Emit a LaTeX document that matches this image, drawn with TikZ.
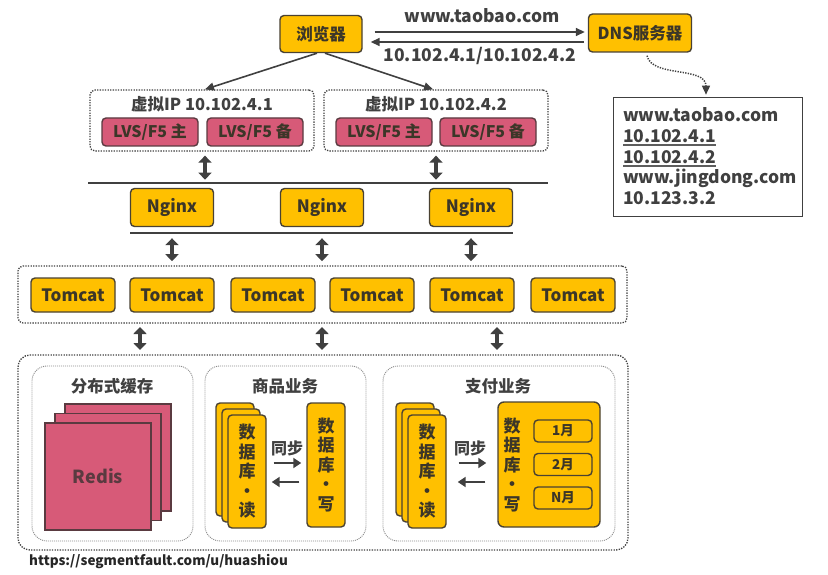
\documentclass[tikz,border=0pt]{standalone}
\usepackage{fontspec}
\setmainfont{Noto Sans CJK SC}
\usetikzlibrary{arrows.meta,calc}
\definecolor{ylw}{HTML}{FFC000}
\definecolor{pnk}{HTML}{D75A78}
\definecolor{bdr}{HTML}{4A4232}
\definecolor{pbdr}{HTML}{5A3A40}
\definecolor{txt}{HTML}{3C3628}
\definecolor{dk}{HTML}{404040}
\definecolor{lg}{HTML}{8A8A8A}
\tikzset{
  fs/.style={font=\bfseries\fontsize{#1}{#1}\selectfont},
  ybox/.style={fill=ylw, draw=bdr, line width=1.4pt, rounded corners=4pt, text=txt, inner sep=0pt},
  pbox/.style={fill=pnk, draw=pbdr, line width=1.4pt, rounded corners=4pt, text=txt, inner sep=0pt},
  dotbox/.style={draw=dk, line width=1.3pt, dash pattern=on 1.3pt off 1.3pt, rounded corners=5pt, inner sep=0pt},
  inbox/.style={draw=lg, line width=0.9pt, dash pattern=on 1pt off 1pt, rounded corners=15pt, inner sep=0pt},
  arr/.style={draw=dk, line width=1.6pt, -{Triangle[length=9pt 0, width=8pt 0]}},
  sarr/.style={draw=dk, line width=2.6pt, -{Triangle[length=8pt 0, width=10pt 0]}},
  dbl/.style={draw=dk, line width=4.5pt, {Triangle[length=7pt 0, width=13pt 0]}-{Triangle[length=7pt 0, width=13pt 0]}},
  sep/.style={draw=dk, line width=1.6pt},
  lbl/.style={text=dk, inner sep=0pt},
  vtxt/.style={align=center, font=\bfseries\fontsize{17}{19.5}\selectfont, text=txt},
}
\begin{document}
\begin{tikzpicture}[x=1pt,y=-1pt]
\useasboundingbox (0,0) rectangle (828,575);

% top
\node[ybox, fs=16.5, minimum width=82pt, minimum height=37pt] (br) at (321,34) {浏览器};
\node[ybox, fs=16.5, minimum width=103pt, minimum height=38pt] (dns) at (640,33) {DNS服务器};
\draw[arr] ($(br.east)+(12,-2)$) -- ($(dns.west)+(-3,-1)$);
\draw[arr] ($(dns.west)+(-4,9)$) -- ($(br.east)+(8,8)$);
\node[lbl, fs=17.5] (q) at (482,16) {www.taobao.com};
\node[lbl, fs=17.5] (a) at (480,56) {10.102.4.1/10.102.4.2};

% DNS table
\node[draw=dk, line width=1.6pt, minimum width=189pt, minimum height=119pt, inner sep=0pt] (tab) at (708,157) {};
\node[lbl, fs=17.5, anchor=west] (t1) at (623,115) {www.taobao.com};
\node[lbl, fs=17.5, anchor=west] (t2) at (623,136) {10.102.4.1};
\node[lbl, fs=17.5, anchor=west] (t3) at (623,157) {10.102.4.2};
\node[lbl, fs=17.5, anchor=west] (t4) at (623,178) {www.jingdong.com};
\node[lbl, fs=17.5, anchor=west] (t5) at (623,198) {10.123.3.2};
\draw[draw=dk!85, line width=1.6pt] ($(t2.south west)+(0,2)$) -- ($(t2.south east)+(0,2)$);
\draw[draw=dk!85, line width=1.6pt] ($(t3.south west)+(0,2)$) -- ($(t3.south east)+(0,2)$);
\draw[draw=dk, line width=1.5pt, dash pattern=on 1.3pt off 1.3pt, -{Triangle[length=9pt 0, width=8pt 0]}]
  ($(dns.south)+(7,3)$) .. controls (652,78) and (706,66) .. ($(tab.north)+(-2,-2)$);

% virtual IP groups
\node[dotbox, minimum width=224pt, minimum height=61pt] (v1) at (202,120.5) {};
\node[dotbox, minimum width=224pt, minimum height=61pt] (v2) at (436,120.5) {};
\node[lbl, fs=16.5] (v1t) at (202,104) {虚拟IP 10.102.4.1};
\node[lbl, fs=16.5] (v2t) at (436,104) {虚拟IP 10.102.4.2};
\node[pbox, fs=16, minimum width=96pt, minimum height=28pt] (l1) at (150,132) {LVS/F5 主};
\node[pbox, fs=16, minimum width=96pt, minimum height=28pt] (l2) at (255,132) {LVS/F5 备};
\node[pbox, fs=16, minimum width=96pt, minimum height=28pt] (l3) at (384,132) {LVS/F5 主};
\node[pbox, fs=16, minimum width=96pt, minimum height=28pt] (l4) at (488,132) {LVS/F5 备};
\draw[arr] ($(br.south)+(-4,0)$) -- ($(v1.north)+(3,0)$);
\draw[arr] ($(br.south)+(4,0)$) -- ($(v2.north)+(-3,0)$);
\draw[dbl] ($(v1.south)+(3,4)$) -- ($(v1.south)+(3,28)$);
\draw[dbl] ($(v2.south)+(0,4)$) -- ($(v2.south)+(0,28)$);

% nginx
\draw[sep] (88,183) -- (548,183);
\node[ybox, fs=17, minimum width=83pt, minimum height=38pt] (n1) at (172,207.5) {Nginx};
\node[ybox, fs=17, minimum width=83pt, minimum height=38pt] (n2) at (322,207.5) {Nginx};
\node[ybox, fs=17, minimum width=83pt, minimum height=38pt] (n3) at (471,207.5) {Nginx};
\draw[sep] (130,233) -- (513,233);
\draw[dbl] ($(n1.south)+(0,11)$) -- ($(n1.south)+(0,34)$);
\draw[dbl] ($(n2.south)+(0,11)$) -- ($(n2.south)+(0,34)$);
\draw[dbl] ($(n3.south)+(0,11)$) -- ($(n3.south)+(0,34)$);

% tomcat
\node[dotbox, minimum width=609pt, minimum height=57pt] (tc) at (322.5,294.5) {};
\foreach \i/\x in {1/73,2/172,3/273,4/372,5/472,6/573}{
  \node[ybox, fs=17, minimum width=84pt, minimum height=34pt] (tc\i) at (\x,295) {Tomcat};
}
\draw[dbl] (140,327) -- (140,350);
\draw[dbl] (322,327) -- (322,350);
\draw[dbl] (497,327) -- (497,350);

% bottom
\node[dotbox, rounded corners=12pt, minimum width=610pt, minimum height=195pt] (bt) at (323,452.5) {};
\node[inbox, minimum width=161pt, minimum height=175pt] (b1) at (112.5,453.5) {};
\node[inbox, minimum width=161pt, minimum height=175pt] (b2) at (285.5,453.5) {};
\node[inbox, minimum width=232pt, minimum height=175pt] (b3) at (499,453.5) {};
\node[lbl, fs=16.5] (b1t) at (112,386) {分布式缓存};
\node[lbl, fs=16.5] (b2t) at (285,386) {商品业务};
\node[lbl, fs=16.5] (b3t) at (498,386) {支付业务};

% redis
\node[fill=pnk, draw=pbdr, line width=1.4pt, minimum width=106pt, minimum height=107pt, inner sep=0pt] (rs3) at (118,457.5) {};
\node[fill=pnk, draw=pbdr, line width=1.4pt, minimum width=106pt, minimum height=107pt, inner sep=0pt] (rs2) at (108,467) {};
\node[fill=pnk, draw=pbdr, line width=1.4pt, minimum width=106pt, minimum height=107pt, inner sep=0pt, text=pbdr, font=\bfseries\fontsize{18}{18}\selectfont] (rs1) at (98,476.5) {Redis};

% goods
\node[ybox, minimum width=38pt, minimum height=113pt] (g3) at (235,459.5) {};
\node[ybox, minimum width=38pt, minimum height=113pt] (g2) at (241,465.5) {};
\node[ybox, minimum width=38pt, minimum height=113pt, vtxt] (g1) at (247,471.5) {数\\据\\库\\·\\读};
\node[ybox, minimum width=38pt, minimum height=124pt, vtxt] (gw) at (326,465) {数\\据\\库\\·\\写};
\node[lbl, fs=16] (gs) at (287,448) {同步};
\draw[sarr, shorten <=7pt, shorten >=5pt] (g1.east |- 0,463) -- (gw.west |- 0,463);
\draw[sarr, shorten <=7pt, shorten >=5pt] (gw.west |- 0,482) -- (g1.east |- 0,482);

% payment
\node[ybox, minimum width=38pt, minimum height=113pt] (p3) at (415,459.5) {};
\node[ybox, minimum width=38pt, minimum height=113pt] (p2) at (421,465.5) {};
\node[ybox, minimum width=38pt, minimum height=113pt, vtxt] (p1) at (427,471.5) {数\\据\\库\\·\\读};
\node[ybox, rounded corners=6pt, minimum width=102pt, minimum height=125pt] (pw) at (549,464.5) {};
\node[vtxt, inner sep=0pt] (pwt) at (512,465) {数\\据\\库\\·\\写};
\node[ybox, fs=13.5, minimum width=58pt, minimum height=22pt] (m1) at (563,431) {1月};
\node[ybox, fs=13.5, minimum width=58pt, minimum height=22pt] (m2) at (563,464.5) {2月};
\node[ybox, fs=13.5, minimum width=58pt, minimum height=22pt] (m3) at (563,498) {N月};
\node[lbl, fs=16] (ps) at (470,448) {同步};
\draw[sarr, shorten <=12pt, shorten >=11pt] (p1.east |- 0,463) -- (pw.west |- 0,463);
\draw[sarr, shorten <=12pt, shorten >=11pt] (pw.west |- 0,482) -- (p1.east |- 0,482);

\node[lbl, fs=13.5, anchor=west, text=black!85] (url) at (29,562) {https://segmentfault.com/u/huashiou};
\end{tikzpicture}
\end{document}
